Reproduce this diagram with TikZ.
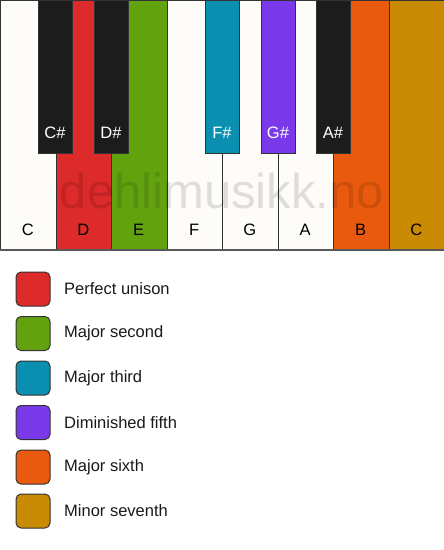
\documentclass[tikz,border=0pt]{standalone}
\usepackage{fontspec}
\setmainfont{Liberation Sans}
\definecolor{cwhite}{HTML}{FDFCF9}
\definecolor{cblack}{HTML}{1C1C1C}
\definecolor{cred}{HTML}{DD2A2A}
\definecolor{cgreen}{HTML}{62A20F}
\definecolor{cteal}{HTML}{0A8FB1}
\definecolor{cpurple}{HTML}{7B3AEA}
\definecolor{corange}{HTML}{E95A0E}
\definecolor{cgold}{HTML}{C98A04}
\definecolor{cline}{HTML}{333333}
\begin{document}
\begin{tikzpicture}[x=1pt,y=-1pt,
  wkey/.style={draw=cline,line width=1pt,minimum width=55.5pt,minimum height=249pt,anchor=north west,inner sep=0pt},
  bkey/.style={draw=cline,line width=1pt,minimum width=34pt,minimum height=153pt,anchor=north west,inner sep=0pt},
  wlab/.style={font=\fontsize{16.5}{16.5}\selectfont,text=black},
  blab/.style={font=\fontsize{16.5}{16.5}\selectfont,text=white},
  swatch/.style={draw=cline,line width=1pt,rounded corners=5pt,minimum width=34pt,minimum height=34pt,inner sep=0pt},
  legtext/.style={font=\fontsize{16.5}{16.5}\selectfont,anchor=west,inner sep=0pt,text=black!90}]
\useasboundingbox (0,0) rectangle (444,550);
\fill[white] (0,0) rectangle (444,550);
% white keys
\foreach \i/\c/\n/\l in {0/cwhite/wC/C,1/cred/wD/D,2/cgreen/wE/E,3/cwhite/wF/F,4/cwhite/wG/G,5/cwhite/wA/A,6/corange/wB/B,7/cgold/wC2/C}{
  \node[wkey,fill=\c] (\n) at ({\i*55.5},0) {};
  \node[wlab] (\n l) at ({\i*55.5+27.75},230) {\l};
}
\draw[color=black!65,line width=2pt] (wC.south west) -- (wC2.south east);
% watermark
\node[font=\fontsize{49}{49}\selectfont,text=black,text opacity=0.12,anchor=base] (wm) at (222,208) {dehlimusikk.no};
% black keys
\foreach \x/\c/\n/\l in {38/cblack/bC/C\#,94/cblack/bD/D\#,205/cteal/bF/F\#,261/cpurple/bG/G\#,316/cblack/bA/A\#}{
  \node[bkey,fill=\c] (\n) at (\x,0) {};
  \node[blab] (\n l) at ({\x+17},133) {\l};
}
% legend
\foreach \y/\c/\t [count=\k] in {289/cred/Perfect unison,333.5/cgreen/Major second,378/cteal/Major third,422.5/cpurple/Diminished fifth,467/corange/Major sixth,511/cgold/Minor seventh}{
  \node[swatch,fill=\c] (s\k) at (33,\y) {};
  \node[legtext] (t\k) at (64,\y) {\t};
}
\end{tikzpicture}
\end{document}
